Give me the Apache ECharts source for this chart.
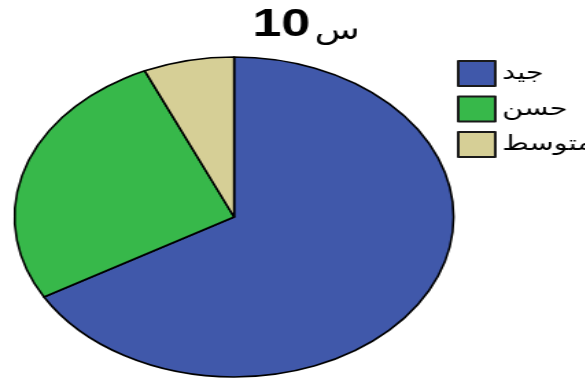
<!DOCTYPE html>
<html>
<head>
<meta charset="utf-8">
<script src="https://cdn.jsdelivr.net/npm/echarts@6/dist/echarts.min.js"></script>
<style>
  html, body { margin: 0; padding: 0; background: #fff; overflow: hidden; }
  /* chart is laid out at natural proportions, then widened horizontally */
  #wrap { width: 585px; height: 381px; overflow: hidden; }
  #chart { width: 427px; height: 381px; transform: scaleX(1.372); transform-origin: 0 0; }
</style>
</head>
<body>
<div id="wrap"><div id="chart"></div></div>
<script>
// title "س10": letter and number drawn as separate runs
const titleLetter = 'س';
const titleNumber = '10';
const categories = ['جيد', 'حسن', 'متوسط'];
const counts = [20, 8, 2];

const palette = ['#4058AA', '#37B84A', '#D6CF96'];
const fontFamily = '"Liberation Sans", "DejaVu Sans", Arial, sans-serif';

const chart = echarts.init(document.getElementById('chart'), null, { renderer: 'canvas' });
chart.setOption({
  animation: false,
  color: palette,
  title: {
    text: '{num|' + titleNumber + '}{let|' + titleLetter + '}',
    left: 223,
    top: 7,
    textAlign: 'center',
    padding: 0,
    textStyle: {
      rich: {
        num: { fontFamily: fontFamily, fontSize: 38, fontWeight: 'bold', color: '#000', verticalAlign: 'bottom' },
        let: { fontFamily: fontFamily, fontSize: 27, fontWeight: 'normal', color: '#000', verticalAlign: 'bottom', padding: [0, 0, 0, 3] }
      }
    }
  },
  legend: {
    orient: 'vertical',
    left: 333,
    top: 60,
    padding: 0,
    itemWidth: 27,
    itemHeight: 25,
    itemGap: 8.5,
    icon: 'rect',
    selectedMode: false,
    itemStyle: { borderColor: '#1a1a1a', borderWidth: 2 },
    textStyle: { fontFamily: fontFamily, fontSize: 21, color: '#000', padding: [4, 0, 0, 0] },
    data: categories
  },
  series: [{
    type: 'pie',
    center: [170.6, 217],
    radius: 160,
    startAngle: 90,
    clockwise: true,
    label: { show: false },
    labelLine: { show: false },
    emphasis: { disabled: true },
    itemStyle: { borderColor: '#000', borderWidth: 1.6 },
    data: categories.map((name, i) => ({ name: name, value: counts[i] }))
  }]
});
</script>
</body>
</html>
